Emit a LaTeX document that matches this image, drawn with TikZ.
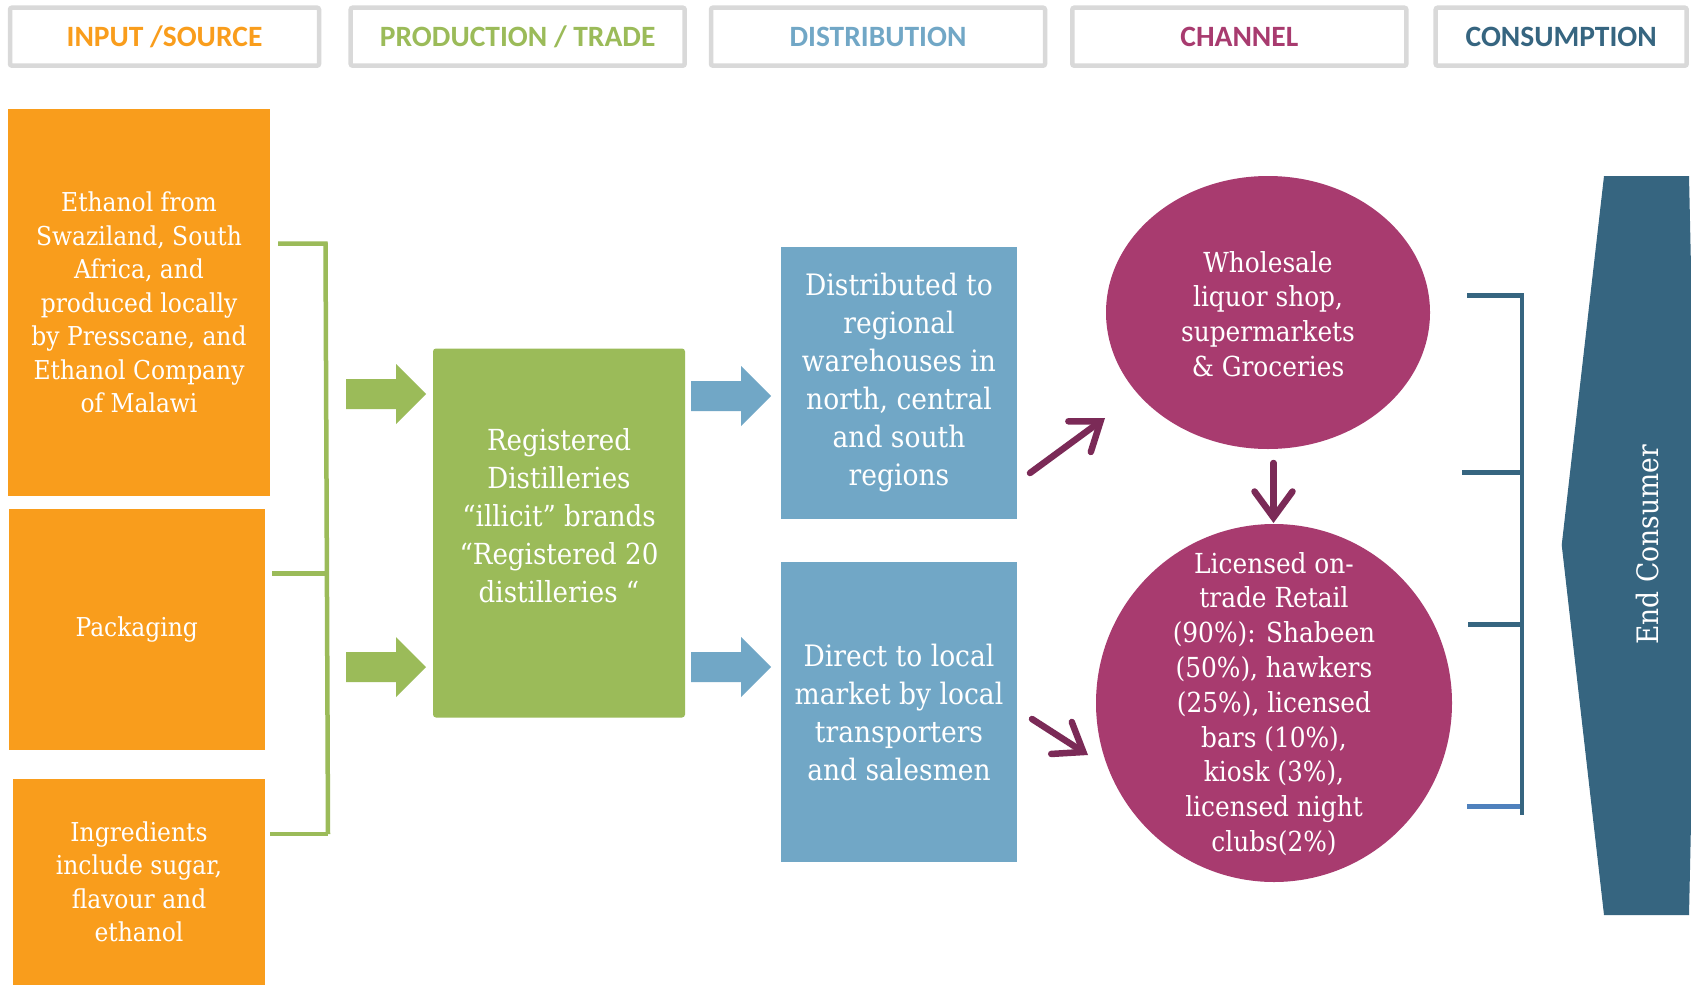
\documentclass[tikz,border=0pt]{standalone}
\usepackage{fontspec}
\setmainfont{DejaVu Serif Condensed}
\newfontfamily\hdrfont{Carlito}
\usetikzlibrary{arrows.meta,shapes.geometric}
\definecolor{corange}{HTML}{F99D1C}
\definecolor{cgreen}{HTML}{9BBB59}
\definecolor{cblue}{HTML}{71A7C6}
\definecolor{cmag}{HTML}{A83B6F}
\definecolor{cdark}{HTML}{7B2A57}
\definecolor{cteal}{HTML}{366580}
\definecolor{cgray}{HTML}{D9D9D9}
\definecolor{cbline}{HTML}{4F81BD}
\tikzset{
  hdr/.style={draw=cgray, line width=4.5pt, fill=white, rounded corners=2pt,
    minimum height=58pt, inner sep=0pt, font=\hdrfont\bfseries\fontsize{29.5}{34}\selectfont},
  obox/.style={fill=corange, inner sep=0pt, text=white, align=center,
    font=\fontsize{26}{33.5}\selectfont},
  gbox/.style={fill=cgreen, rounded corners=3pt, inner sep=0pt},
  bbox/.style={fill=cblue, inner sep=0pt, text=white, align=center,
    font=\fontsize{29.5}{38}\selectfont},
  mell/.style={ellipse, fill=cmag, inner sep=0pt},
  wtext/.style={text=white, align=center, inner sep=0pt},
  etext/.style={text=white, align=center, inner sep=0pt, font=\fontsize{27.6}{34.8}\selectfont},
  marr/.style={draw=cdark, line width=6.5pt, line cap=round,
    -{Straight Barb[length=26pt, width=38pt, line cap=round]}},
  gline/.style={draw=cgreen, line width=4.5pt},
  tline/.style={draw=cteal, line width=4.5pt},
  blockarrow/.pic={\fill (0,-15) -- (50,-15) -- (50,-30) -- (80,0) -- (50,30) -- (50,15) -- (0,15) -- cycle;}
}
\begin{document}
\begin{tikzpicture}[x=1pt,y=-1pt]
\useasboundingbox (0,0) rectangle (1691,985);
\fill[white] (0,0) rectangle (1691,985);

% headers
\node[hdr, minimum width=309pt, text=corange] (h1) at (164.5,36.7) {INPUT /SOURCE};
\node[hdr, minimum width=334pt, text=cgreen] (h2) at (517.7,36.7) {PRODUCTION / TRADE};
\node[hdr, minimum width=334pt, text=cblue] (h3) at (878,36.7) {DISTRIBUTION};
\node[hdr, minimum width=334pt, text=cmag] (h4) at (1239.3,36.7) {CHANNEL};
\node[hdr, minimum width=251pt, text=cteal] (h5) at (1561.2,36.7) {CONSUMPTION};

% orange input boxes
\node[obox, minimum width=262pt, minimum height=387pt] (o1) at (139,302.5)
  {Ethanol from\\Swaziland, South\\Africa, and\\produced locally\\by Presscane, and\\Ethanol Company\\of Malawi};
\node[obox, minimum width=256.5pt, minimum height=241pt] (o2) at (136.8,629.5) {Packaging};
\node[obox, minimum width=252pt, minimum height=206pt] (o3) at (139,882)
  {Ingredients\\include sugar,\\flavour and\\ethanol};

% green bracket
\draw[gline] (278,243.7) -- (325.5,243.7) -- (328,834);
\draw[gline] (272,573.5) -- (326.5,573.5);
\draw[gline] (270,834) -- (328,834);

% green block arrows
\pic[cgreen] at (346,394) {blockarrow};
\pic[cgreen] at (346,667) {blockarrow};

% production box
\node[gbox, minimum width=252pt, minimum height=369pt] (g) at (559,533) {};
\node[wtext, font=\fontsize{29}{38}\selectfont] (gt) at (559,516)
  {Registered\\Distilleries\\\char"201C illicit\char"201D\ brands\\\char"201C Registered 20\\distilleries \char"201C};

% blue block arrows
\pic[cblue] at (691,396) {blockarrow};
\pic[cblue] at (691,667) {blockarrow};

% distribution boxes
\node[bbox, minimum width=236pt, minimum height=272pt] (b1) at (899,383)
  {Distributed to\\regional\\warehouses in\\north, central\\and south\\regions};
\node[bbox, minimum width=236pt, minimum height=300pt] (b2) at (899,712)
  {Direct to local\\market by local\\transporters\\and salesmen};

% channel ellipses
\node[mell, minimum width=324pt, minimum height=273pt] (e1) at (1268,312.5) {};
\node[etext] (e1t) at (1268,314)
  {Wholesale\\liquor shop,\\supermarkets\\\& Groceries};
\node[mell, minimum width=356pt, minimum height=358pt] (e2) at (1274,703) {};
\node[etext] (e2t) at (1274,704)
  {Licensed on-\\trade Retail\\(90\%): Shabeen\\(50\%), hawkers\\(25\%), licensed\\bars (10\%),\\kiosk (3\%),\\licensed night\\clubs(2\%)};

% magenta arrows
\coordinate (a1s) at (1030,473);
\coordinate (a1e) at (1105,418);
\coordinate (a2s) at (1273.5,463);
\coordinate (a2e) at (1273.5,523);
\coordinate (a3s) at (1032,719);
\coordinate (a3e) at (1088,755);
\draw[marr] (a1s) -- (a1e);
\draw[marr] (a2s) -- (a2e);
\draw[marr] (a3s) -- (a3e);

% teal bracket
\draw[tline] (1467,295.5) -- (1522,295.5) -- (1522,815);
\draw[tline] (1462,472.4) -- (1522,472.4);
\draw[tline] (1468,624.4) -- (1522,624.4);
\draw[draw=cbline, line width=4.5pt] (1467,806.7) -- (1520,806.7);

% end consumer chevron
\fill[cteal] (1604,176) -- (1689,176) -- (1697,545) -- (1689,915) -- (1604,915) -- (1561.7,545) -- cycle;
\node[wtext, rotate=90, font=\fontsize{29.5}{32}\selectfont] (ec) at (1647,545) {End Consumer};
\end{tikzpicture}
\end{document}
